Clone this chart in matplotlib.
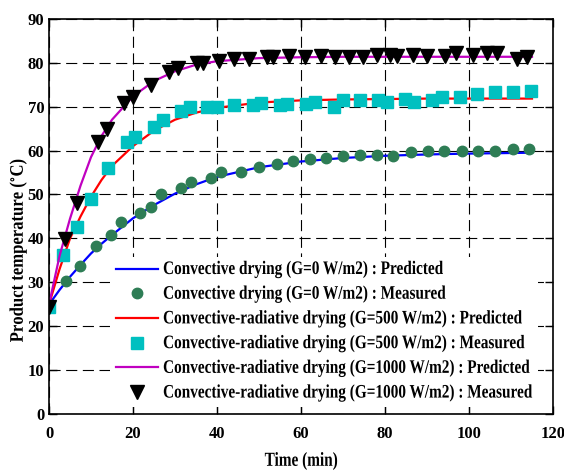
import numpy as np
import matplotlib.pyplot as plt
from matplotlib.patheffects import AbstractPathEffect
from matplotlib.transforms import Affine2D

# predicted curves
t_pred = [0, 2.5, 5, 7.5, 10, 12.5, 15, 20, 25, 30, 35, 40, 50, 60, 70, 80, 90, 100, 115]
pred_g0 = [25, 28.3, 31.3, 34, 36.6, 38.8, 40.8, 44.6, 47.6, 50.2, 52.3, 54, 56.2, 57.5, 58.3, 58.8, 59.1, 59.3, 59.5]
pred_g500 = [25, 33, 40, 45, 49.5, 53.3, 56.5, 61, 64.5, 67, 68.6, 69.7, 70.9, 71.4, 71.6, 71.7, 71.8, 71.8, 71.8]
pred_g1000 = [25, 36, 44.5, 52, 58.5, 63.3, 67, 72.3, 75.8, 78, 79.5, 80.3, 81, 81.2, 81.3, 81.3, 81.3, 81.3, 81.3]

# measured points
t_g0 = [0, 4.0, 7.4, 11.1, 14.7, 17.1, 21.7, 24.2, 26.6, 31.4, 33.8, 38.6, 40.9, 45.6, 50, 54.4,
        58.2, 62.1, 66, 70.1, 74, 78.2, 82, 86.1, 90.2, 94.1, 98.3, 102.1, 106.3, 110.4, 114.2]
y_g0 = [24.5, 30.3, 33.8, 38.3, 40.9, 43.8, 45.7, 47.2, 50.0, 51.4, 52.8, 53.8, 55.2, 55.2, 56.2, 57.0,
        57.6, 58.0, 58.3, 58.8, 59.0, 59.0, 58.8, 59.7, 60.0, 60.0, 60.0, 60.0, 60.0, 60.3, 60.4]

t_g500 = [0, 3.4, 6.6, 9.9, 14.1, 18.5, 20.5, 24.9, 27.1, 31.4, 33.6, 37.7, 39.9, 44.1, 48.6, 50.4,
          55, 56.6, 61.3, 63.3, 67.9, 69.9, 74, 78.4, 80.4, 84.8, 86.9, 91.3, 93.5, 97.9, 102, 106.2,
          110.4, 114.7]
y_g500 = [24.5, 36.3, 42.7, 49.0, 56.1, 62.0, 63.1, 65.4, 66.9, 69.0, 70.0, 70.0, 70.0, 70.3, 70.3, 70.7,
          70.3, 70.5, 70.5, 71.1, 70.0, 71.5, 71.5, 71.5, 71.1, 71.8, 71.1, 71.5, 72.2, 72.2, 72.8, 73.2,
          73.2, 73.5]

t_g1000 = [0, 3.8, 6.6, 11.6, 13.9, 17.9, 19.9, 24.4, 28.6, 30.8, 35.2, 36.7, 40.5, 44, 47.5, 51.8,
           53.3, 57.2, 61, 64.7, 68.1, 71.5, 74.8, 78.2, 81.2, 82.8, 86.6, 89.9, 94.3, 96.9, 100.9,
           104.4, 106.7, 111.5, 113.7]
y_g1000 = [24.5, 39.8, 48.0, 61.9, 65.0, 70.7, 72.2, 74.9, 77.9, 78.7, 79.8, 79.8, 80.3, 80.7, 80.7, 81.2,
           81.2, 81.5, 81.2, 81.5, 81.3, 81.3, 81.3, 81.7, 81.7, 81.4, 81.7, 81.4, 81.4, 82.1, 81.7,
           82.1, 82.1, 80.9, 81.3]


class VStretch(AbstractPathEffect):
    # taller, narrower-looking glyphs like the original (stretch around baseline)
    def __init__(self, sy):
        super().__init__()
        self.sy = sy

    def draw_path(self, renderer, gc, tpath, affine, rgbFace=None):
        renderer.draw_path(gc, tpath, Affine2D().scale(1, self.sy) + affine, rgbFace)


plt.rcParams["font.family"] = ["Liberation Serif", "DejaVu Serif"]
plt.rcParams["font.weight"] = "bold"
plt.rcParams["mathtext.fontset"] = "stix"

fig = plt.figure(figsize=(5.64, 4.71), dpi=100)
ax = fig.add_axes([0.0869, 0.12, 0.8936, 0.8407])

ax.plot(t_pred, pred_g0, color="#0000FF", lw=1.6,
        label="Convective drying (G=0 W/m2) : Predicted")
ax.plot(t_g0, y_g0, "o", color="#2E7D55", ms=7.5, ls="none",
        label="Convective drying (G=0 W/m2) : Measured")
ax.plot(t_pred, pred_g500, color="#FF0000", lw=1.6,
        label="Convective-radiative drying (G=500 W/m2) : Predicted")
ax.plot(t_g500, y_g500, "s", color="#00C0C0", ms=8.5, ls="none",
        label="Convective-radiative drying (G=500 W/m2) : Measured")
ax.plot(t_pred, pred_g1000, color="#C000C0", lw=1.6,
        label="Convective-radiative drying (G=1000 W/m2) : Predicted")
ax.plot(t_g1000, y_g1000, "v", color="black", ms=9.5, ls="none",
        label="Convective-radiative drying (G=1000 W/m2) : Measured")

ax.set_xlim(0, 120)
ax.set_ylim(0, 90)
ax.set_xticks(np.arange(0, 121, 20))
ax.set_yticks(np.arange(0, 91, 10))
ax.grid(True, color="black", lw=0.8, ls=(0, (10, 5)))
ax.set_axisbelow(True)
ax.tick_params(direction="in", length=6, width=1, top=True, right=True, labelsize=12)
ax.tick_params(axis="x", pad=8)
for s in ax.spines.values():
    s.set_linewidth(1.2)

xl = ax.set_xlabel("Time (min)", fontsize=11, fontweight="bold", labelpad=10)
xl.set_path_effects([VStretch(1.3)])
yl = ax.set_ylabel(r"Product temperature ($^{\circ}$C)", fontsize=12, fontweight="bold")
yl.set_path_effects([VStretch(1.15)])
ax.yaxis.set_label_coords(-0.040, 0.415)

leg = ax.legend(loc="lower left", bbox_to_anchor=(0.105, 0.0), fontsize=11,
                frameon=True, edgecolor="none", facecolor="white", framealpha=1,
                handlelength=2.8, labelspacing=0.71, borderpad=0.4, handletextpad=0.3)
leg.get_frame().set_linewidth(0)
for txt in leg.get_texts():
    txt.set_path_effects([VStretch(1.25)])

fig.savefig("out.png", dpi=100)
